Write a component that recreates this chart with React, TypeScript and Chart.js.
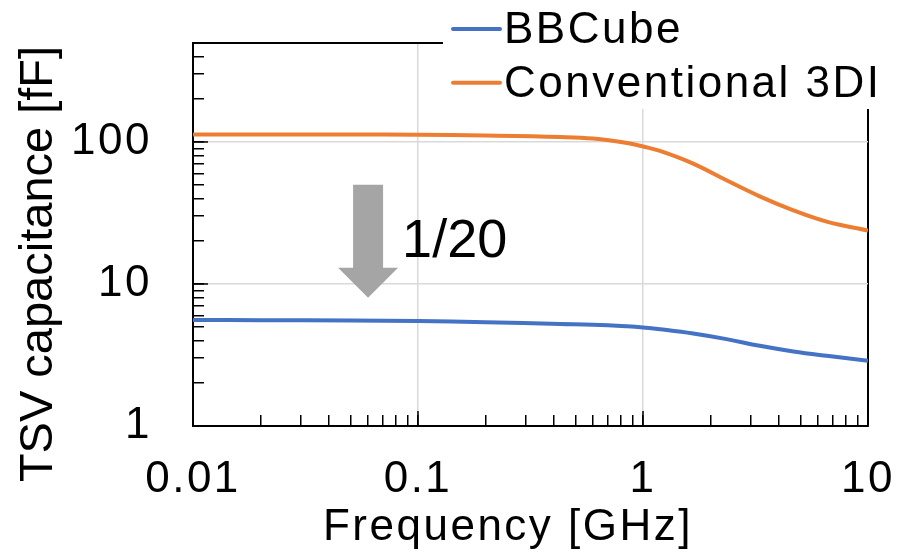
import React, { useEffect, useRef } from 'react';
import { Chart, registerables } from 'chart.js';

Chart.register(...registerables);

// ---- data ----
const frequencies = [0.01, 0.02, 0.05, 0.1, 0.2, 0.43, 0.6, 0.85, 1, 1.19, 1.67, 2.35, 3.3, 4.66, 6.55, 10];
const bbCube = [5.57, 5.56, 5.53, 5.48, 5.38, 5.22, 5.16, 5.03, 4.94, 4.8, 4.48, 4.09, 3.67, 3.35, 3.12, 2.88];
const conventional3DI = [113, 113, 112.8, 112.3, 111, 108.4, 105.7, 98.4, 92.9, 86.4, 70.4, 53.7, 41.4, 33, 27.5, 23.8];
const seriesLabels = ['BBCube', 'Conventional 3DI'];
const seriesColors = ['#4472C4', '#ED7D31'];

const xTickLabels = ['0.01', '0.1', '1', '10'];
const yTickLabels = ['1', '10', '100'];
const xRange = [0.01, 10];
const yRange = [1, 500];
const xTitle = 'Frequency [GHz]';
const yTitle = 'TSV capacitance [fF]';

// annotation: arrow (frequency; top value, head base value, tip value) and text
const arrowFreq = [0.06];
const arrowValues = [50, 13, 8];
const annotationText = '1/20';
const annotationAt = [0.085, 15.6];

const FONT = '"Liberation Sans", Arial, Helvetica, sans-serif';
const W = 897;
const H = 553;

function logTicks(min: number, max: number): number[] {
  const out: number[] = [];
  const e0 = Math.floor(Math.log10(min));
  const e1 = Math.ceil(Math.log10(max));
  for (let e = e0; e <= e1; e++) {
    for (let m = 1; m <= 9; m++) {
      const v = Number((m * Math.pow(10, e)).toPrecision(6));
      if (v >= min * (1 - 1e-9) && v <= max * (1 + 1e-9)) out.push(v);
    }
  }
  return out;
}

const near = (a: number, b: number) => Math.abs(Math.log10(a) - Math.log10(b)) < 1e-6;
const isDecade = (v: number) => Math.abs(Math.log10(v) - Math.round(Math.log10(v))) < 1e-6;

function gridColor(range: number[]) {
  return (c: any) => {
    const v = c.tick ? c.tick.value : null;
    if (v == null) return 'transparent';
    if (near(v, range[1])) return '#000';
    if (near(v, range[0])) return 'transparent';
    if (isDecade(v)) return '#d9d9d9';
    return 'transparent';
  };
}
function gridWidth(range: number[]) {
  return (c: any) => {
    const v = c.tick ? c.tick.value : null;
    if (v != null && near(v, range[1])) return 2;
    return 1.5;
  };
}
function labelFor(labels: string[]) {
  return (value: any) => {
    const v = Number(value);
    const l = labels.find((s) => near(Number(s), v));
    return l ?? '';
  };
}

const decorPlugin = {
  id: 'decor',
  beforeDraw(chart: any) {
    (chart.ctx as any).letterSpacing = '2.5px';
  },
  afterDraw(chart: any) {
    const ctx = chart.ctx as any;
    const xs = chart.scales.x;
    const ys = chart.scales.y;
    const area = chart.chartArea;
    ctx.save();
    ctx.letterSpacing = '0px';

    // longer major tick marks
    ctx.strokeStyle = '#000';
    ctx.lineWidth = 1.5;
    xTickLabels.forEach((l) => {
      const v = Number(l);
      if (near(v, xRange[0]) || near(v, xRange[1])) return;
      const px = xs.getPixelForValue(v);
      ctx.beginPath();
      ctx.moveTo(px, area.bottom);
      ctx.lineTo(px, area.bottom - 15);
      ctx.stroke();
    });
    yTickLabels.forEach((l) => {
      const v = Number(l);
      if (near(v, yRange[0]) || near(v, yRange[1])) return;
      const py = ys.getPixelForValue(v);
      ctx.beginPath();
      ctx.moveTo(area.left, py);
      ctx.lineTo(area.left + 15, py);
      ctx.stroke();
    });

    // arrow
    const ax = xs.getPixelForValue(arrowFreq[0]);
    const aTop = ys.getPixelForValue(arrowValues[0]);
    const aBase = ys.getPixelForValue(arrowValues[1]);
    const aTip = ys.getPixelForValue(arrowValues[2]);
    ctx.fillStyle = '#A5A5A5';
    ctx.beginPath();
    ctx.moveTo(ax - 15, aTop);
    ctx.lineTo(ax + 15, aTop);
    ctx.lineTo(ax + 15, aBase);
    ctx.lineTo(ax + 30, aBase);
    ctx.lineTo(ax, aTip);
    ctx.lineTo(ax - 30, aBase);
    ctx.lineTo(ax - 15, aBase);
    ctx.closePath();
    ctx.fill();

    // annotation text
    ctx.fillStyle = '#000';
    ctx.font = `54px ${FONT}`;
    ctx.textAlign = 'left';
    ctx.textBaseline = 'alphabetic';
    ctx.fillText(annotationText, xs.getPixelForValue(annotationAt[0]), ys.getPixelForValue(annotationAt[1]));

    // legend (white box overlapping the plot frame)
    ctx.fillStyle = '#fff';
    ctx.fillRect(443, 0, W - 443, 109);
    const legendLineY = [29, 82.7];
    const legendTextY = [43.3, 96.7];
    ctx.lineCap = 'round';
    ctx.lineWidth = 4;
    ctx.font = `44px ${FONT}`;
    ctx.letterSpacing = '2.5px';
    chart.data.datasets.forEach((ds: any, i: number) => {
      ctx.strokeStyle = ds.borderColor;
      ctx.beginPath();
      ctx.moveTo(453, legendLineY[i]);
      ctx.lineTo(500, legendLineY[i]);
      ctx.stroke();
      ctx.fillStyle = '#000';
      ctx.fillText(ds.label, 504, legendTextY[i]);
    });

    // x title
    ctx.textAlign = 'center';
    ctx.fillText(xTitle, 508, 540);

    // y title
    ctx.letterSpacing = '0px';
    ctx.font = `47px ${FONT}`;
    ctx.translate(52, 264);
    ctx.rotate(-Math.PI / 2);
    ctx.fillText(yTitle, 0, 0);
    ctx.restore();
    ctx.letterSpacing = '0px';
  },
};

export default function App() {
  const ref = useRef<HTMLCanvasElement | null>(null);
  useEffect(() => {
    if (!ref.current) return;
    const chart = new Chart(ref.current, {
      type: 'line',
      data: {
        datasets: [
          {
            label: seriesLabels[0],
            data: frequencies.map((f, i) => ({ x: f, y: bbCube[i] })),
            borderColor: seriesColors[0],
            backgroundColor: seriesColors[0],
            borderWidth: 4,
            pointRadius: 0,
            tension: 0.4,
            fill: false,
          },
          {
            label: seriesLabels[1],
            data: frequencies.map((f, i) => ({ x: f, y: conventional3DI[i] })),
            borderColor: seriesColors[1],
            backgroundColor: seriesColors[1],
            borderWidth: 4,
            pointRadius: 0,
            tension: 0.4,
            fill: false,
          },
        ],
      },
      options: {
        responsive: false,
        animation: false,
        devicePixelRatio: 1,
        layout: { padding: { top: 42.7, right: W - 868, left: 0, bottom: 0 } },
        plugins: { legend: { display: false }, tooltip: { enabled: false }, title: { display: false } },
        scales: {
          x: {
            type: 'logarithmic',
            position: 'bottom',
            min: xRange[0],
            max: xRange[1],
            afterBuildTicks: (s: any) => {
              s.ticks = logTicks(xRange[0], xRange[1]).map((v) => ({ value: v }));
            },
            afterFit: (s: any) => {
              s.height = H - 426;
              s.paddingLeft = 0;
              s.paddingRight = 0;
            },
            grid: {
              color: gridColor(xRange),
              lineWidth: gridWidth(xRange),
              drawTicks: true,
              tickLength: -11,
              tickColor: '#000',
              tickWidth: 1.5,
            },
            border: { display: true, color: '#000', width: 2 },
            ticks: {
              autoSkip: false,
              maxRotation: 0,
              minRotation: 0,
              padding: 38,
              color: '#000',
              font: { family: FONT, size: 44 },
              callback: labelFor(xTickLabels),
            },
          },
          y: {
            type: 'logarithmic',
            position: 'left',
            min: yRange[0],
            max: yRange[1],
            afterBuildTicks: (s: any) => {
              s.ticks = logTicks(yRange[0], yRange[1]).map((v) => ({ value: v }));
            },
            afterFit: (s: any) => {
              s.width = 193;
              s.paddingTop = 0;
              s.paddingBottom = 0;
            },
            grid: {
              color: gridColor(yRange),
              lineWidth: gridWidth(yRange),
              drawTicks: true,
              tickLength: -11,
              tickColor: '#000',
              tickWidth: 1.5,
            },
            border: { display: true, color: '#000', width: 2 },
            ticks: {
              autoSkip: false,
              padding: 52,
              color: '#000',
              font: { family: FONT, size: 44 },
              callback: labelFor(yTickLabels),
            },
          },
        },
      } as any,
      plugins: [decorPlugin],
    });
    return () => chart.destroy();
  }, []);
  return (
    <div style={{ position: 'absolute', left: 0, top: 0, width: W, height: H }}>
      <canvas ref={ref} width={W} height={H} style={{ display: 'block', width: W, height: H }} />
    </div>
  );
}
